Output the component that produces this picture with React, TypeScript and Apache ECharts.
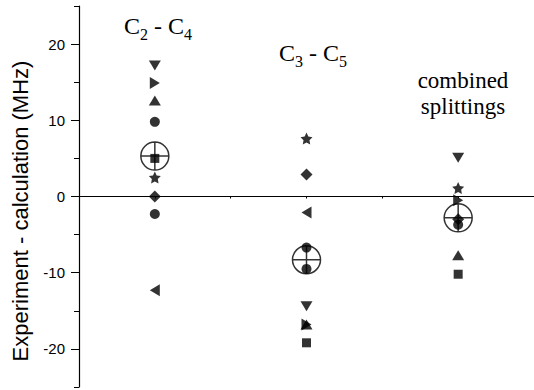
import React, { useEffect, useRef } from "react";
import * as echarts from "echarts";

// Groups along the horizontal axis (x positions 1, 2, 3)
const groups = ["C2 - C4", "C3 - C5", "combined splittings"];

// Experiment - calculation differences (MHz) per transition, one array per marker type
const squareVals = [5.0, -19.2, -10.2];
const circleAVals = [9.8, -6.7, -3.7];
const circleBVals = [-2.3, -9.5, null];
const upVals = [12.6, -16.8, -7.7];
const downVals = [17.2, -14.4, 5.1];
const diamondVals = [0.0, 2.9, -3.0];
const leftVals = [-12.3, -2.1, null];
const rightVals = [14.9, -16.8, -0.5];
const starVals = [2.5, 7.6, 1.1];

// Mean of each group
const meanVals = [5.3, -8.3, -2.8];

const yTickValues = [-20, -10, 0, 10, 20];

const STAR =
  "path://M0,-10L2.9,-4L9.5,-3.1L4.7,1.5L5.9,8.1L0,5L-5.9,8.1L-4.7,1.5L-9.5,-3.1L-2.9,-4Z";
const CROSSED_CIRCLE =
  "path://M0,-10A10,10,0,1,1,0,10A10,10,0,1,1,0,-10ZM-10,0L10,0M0,-10L0,10";

function pts(vals: (number | null)[]) {
  return vals
    .map((v, i) => (v === null ? null : [i + 1, v]))
    .filter((p) => p !== null);
}

function markerSeries(
  name: string,
  vals: (number | null)[],
  symbol: string,
  size: number | number[],
  rotate = 0
) {
  return {
    name,
    type: "scatter",
    data: pts(vals),
    symbol,
    symbolSize: size,
    symbolRotate: rotate,
    itemStyle: { color: "#000" },
    z: 3,
  };
}

export default function App() {
  const ref = useRef<HTMLDivElement>(null);

  useEffect(() => {
    if (!ref.current) return;
    document.body.style.margin = "0";
    const chart = echarts.init(ref.current, null, { renderer: "svg" });

    const serif = "'Liberation Serif', 'Times New Roman', serif";
    const sans = "'Liberation Sans', Arial, sans-serif";

    const rich = {
      c: { fontSize: 24, fontFamily: serif, color: "#000", lineHeight: 32 },
      s: { fontSize: 16, fontFamily: serif, color: "#000", lineHeight: 17, verticalAlign: "bottom" },
    };

    chart.setOption({
      animation: false,
      grid: { left: 79, top: 6, width: 457, height: 381, containLabel: false },
      xAxis: {
        type: "value",
        min: 0.5,
        max: 3.5,
        interval: 0.5,
        axisLine: { onZero: true, lineStyle: { color: "#000", width: 1.2 } },
        axisTick: { show: true, length: 2, lineStyle: { color: "#000" } },
        axisLabel: { show: false },
        splitLine: { show: false },
      },
      yAxis: [
        {
          type: "value",
          min: -25,
          max: 25,
          interval: 5,
          axisLine: { show: true, lineStyle: { color: "#000", width: 1.2 } },
          axisTick: { show: true, length: 5, lineStyle: { color: "#000" } },
          axisLabel: { show: false },
          splitLine: { show: false },
        },
        {
          type: "value",
          position: "left",
          min: -25,
          max: 25,
          interval: 5,
          axisLine: { show: false },
          axisTick: {
            show: true,
            length: 8,
            customValues: yTickValues,
            lineStyle: { color: "#000" },
          },
          axisLabel: {
            show: true,
            customValues: yTickValues,
            margin: 14,
            fontSize: 15,
            fontFamily: sans,
            color: "#000",
          },
          splitLine: { show: false },
        },
      ],
      graphic: [
        {
          type: "text",
          x: 20,
          y: 211,
          rotation: Math.PI / 2,
          style: {
            text: "Experiment - calculation (MHz)",
            fontSize: 22,
            fontFamily: sans,
            fill: "#000",
            align: "center",
            verticalAlign: "middle",
          },
        },
        {
          type: "text",
          x: 158,
          y: 26,
          style: {
            text: "{c|C}{s|2}{c| - C}{s|4}",
            rich,
            align: "center",
            verticalAlign: "middle",
          },
        },
        {
          type: "text",
          x: 313,
          y: 53,
          style: {
            text: "{c|C}{s|3}{c| - C}{s|5}",
            rich,
            align: "center",
            verticalAlign: "middle",
          },
        },
        {
          type: "text",
          x: 463,
          y: 93,
          style: {
            text: "combined\nsplittings",
            fontSize: 23,
            fontFamily: serif,
            lineHeight: 26,
            fill: "#000",
            align: "center",
            verticalAlign: "middle",
          },
        },
      ],
      series: [
        markerSeries("square", squareVals, "rect", 9),
        markerSeries("circleA", circleAVals, "circle", 10),
        markerSeries("circleB", circleBVals, "circle", 10),
        markerSeries("up", upVals, "triangle", [12, 10]),
        markerSeries("down", downVals, "triangle", [12, 10], 180),
        markerSeries("diamond", diamondVals, "diamond", [12, 12]),
        markerSeries("left", leftVals, "triangle", [12, 10], 90),
        markerSeries("right", rightVals, "triangle", [12, 10], -90),
        markerSeries("star", starVals, STAR, 12),
        {
          name: "mean",
          type: "scatter",
          data: pts(meanVals),
          symbol: CROSSED_CIRCLE,
          symbolSize: 28,
          itemStyle: { color: "none", borderColor: "#000", borderWidth: 1.5 },
          z: 4,
        },
      ],
    });

    return () => chart.dispose();
  }, []);

  return <div ref={ref} style={{ width: 534, height: 390 }} />;
}
